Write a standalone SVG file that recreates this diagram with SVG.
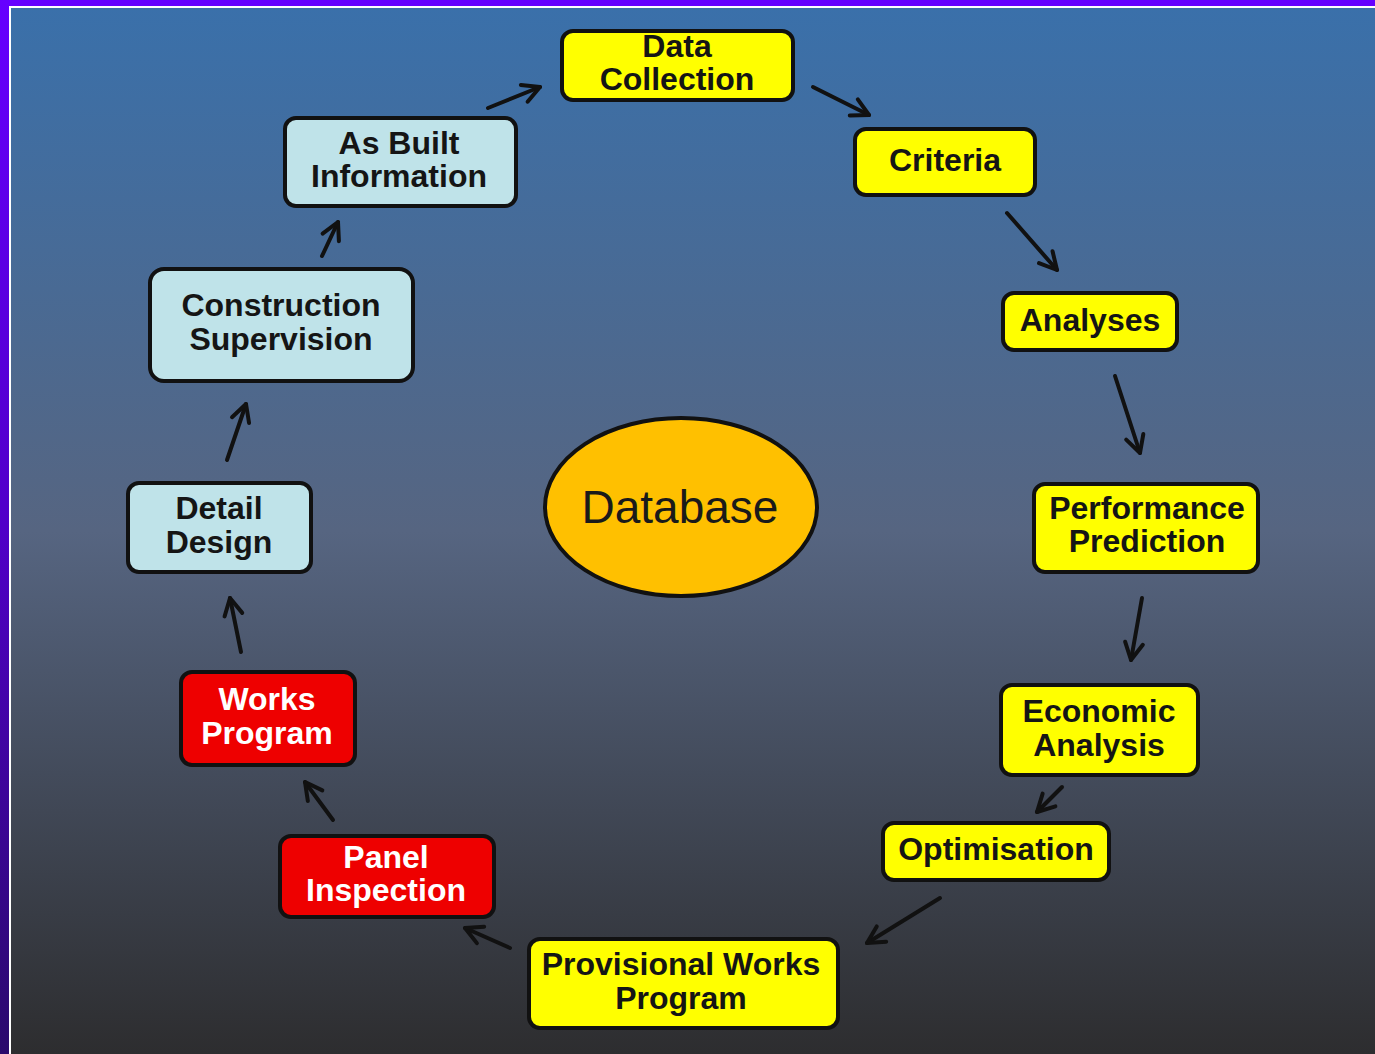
<svg xmlns="http://www.w3.org/2000/svg" width="1375" height="1054" viewBox="0 0 1375 1054">
<defs>
  <linearGradient id="bg" x1="0" y1="0" x2="0" y2="1">
    <stop offset="0" stop-color="#3a70aa"/>
    <stop offset="0.5" stop-color="#566581"/>
    <stop offset="1" stop-color="#2d2d2f"/>
  </linearGradient>
  <linearGradient id="frame" x1="0" y1="0" x2="0" y2="1">
    <stop offset="0" stop-color="#6600ff"/>
    <stop offset="0.5" stop-color="#5000c8"/>
    <stop offset="1" stop-color="#2a0a6c"/>
  </linearGradient>
  <marker id="ah" viewBox="0 0 24 24" refX="21" refY="12" markerWidth="24" markerHeight="24" markerUnits="userSpaceOnUse" orient="auto">
    <path d="M4,3 L21,12 L4,21" fill="none" stroke="#111" stroke-width="4" stroke-linecap="round" stroke-linejoin="round"/>
  </marker>
</defs>
<style>
  .box rect { stroke: #111; stroke-width: 4; }
  .yellow rect { fill: #ffff00; }
  .blue rect { fill: #bfe3e9; }
  .red rect { fill: #ee0000; }
  .box text { font-family: "Liberation Sans", Arial, sans-serif; font-weight: bold; font-size: 32px; text-anchor: middle; fill: #151515; }
  .red text { fill: #ffffff; }
  #connectors line { stroke: #111; stroke-width: 4; stroke-linecap: round; marker-end: url(#ah); }
</style>
<rect x="0" y="0" width="1375" height="1054" fill="url(#frame)"/>
<rect x="9" y="6" width="1366" height="1048" fill="#ffffff"/>
<rect x="11" y="8" width="1364" height="1046" fill="url(#bg)"/>

<g id="connectors">
  <line x1="488" y1="108" x2="540" y2="87"/>
  <line x1="813" y1="87" x2="869" y2="115"/>
  <line x1="1007" y1="213" x2="1057" y2="270"/>
  <line x1="1115" y1="376" x2="1140" y2="453"/>
  <line x1="1142" y1="598" x2="1131" y2="660"/>
  <line x1="1062" y1="787" x2="1037" y2="812"/>
  <line x1="940" y1="898" x2="867" y2="943"/>
  <line x1="510" y1="948" x2="465" y2="928"/>
  <line x1="333" y1="820" x2="305" y2="782"/>
  <line x1="241" y1="652" x2="230" y2="598"/>
  <line x1="227" y1="460" x2="246" y2="404"/>
  <line x1="322" y1="256" x2="338" y2="222"/>
</g>

<g id="data-collection" class="box yellow">
  <rect x="562" y="31" width="231" height="69" rx="11"/>
  <text x="677" y="57">Data</text>
  <text x="677" y="90">Collection</text>
</g>
<g id="criteria" class="box yellow">
  <rect x="855" y="129" width="180" height="66" rx="11"/>
  <text x="945" y="171">Criteria</text>
</g>
<g id="analyses" class="box yellow">
  <rect x="1003" y="293" width="174" height="57" rx="11"/>
  <text x="1090" y="331">Analyses</text>
</g>
<g id="performance-prediction" class="box yellow">
  <rect x="1034" y="484" width="224" height="88" rx="11"/>
  <text x="1147" y="519">Performance</text>
  <text x="1147" y="552">Prediction</text>
</g>
<g id="economic-analysis" class="box yellow">
  <rect x="1001" y="685" width="197" height="90" rx="11"/>
  <text x="1099" y="722">Economic</text>
  <text x="1099" y="756">Analysis</text>
</g>
<g id="optimisation" class="box yellow">
  <rect x="883" y="823" width="226" height="57" rx="11"/>
  <text x="996" y="860">Optimisation</text>
</g>
<g id="provisional-works-program" class="box yellow">
  <rect x="529" y="939" width="309" height="89" rx="11"/>
  <text x="681" y="975">Provisional Works</text>
  <text x="681" y="1009">Program</text>
</g>
<g id="panel-inspection" class="box red">
  <rect x="280" y="836" width="214" height="81" rx="11"/>
  <text x="386" y="868">Panel</text>
  <text x="386" y="901">Inspection</text>
</g>
<g id="works-program" class="box red">
  <rect x="181" y="672" width="174" height="93" rx="11"/>
  <text x="267" y="710">Works</text>
  <text x="267" y="744">Program</text>
</g>
<g id="detail-design" class="box blue">
  <rect x="128" y="483" width="183" height="89" rx="11"/>
  <text x="219" y="519">Detail</text>
  <text x="219" y="553">Design</text>
</g>
<g id="construction-supervision" class="box blue">
  <rect x="150" y="269" width="263" height="112" rx="14"/>
  <text x="281" y="316">Construction</text>
  <text x="281" y="350">Supervision</text>
</g>
<g id="as-built-information" class="box blue">
  <rect x="285" y="118" width="231" height="88" rx="11"/>
  <text x="399" y="154">As Built</text>
  <text x="399" y="187">Information</text>
</g>
<g id="database">
  <ellipse cx="681" cy="507" rx="136" ry="89" fill="#ffc000" stroke="#111" stroke-width="4"/>
  <text x="680" y="523" font-family="'Liberation Sans', Arial, sans-serif" font-size="46" text-anchor="middle" fill="#1a1a1a">Database</text>
</g>
</svg>
